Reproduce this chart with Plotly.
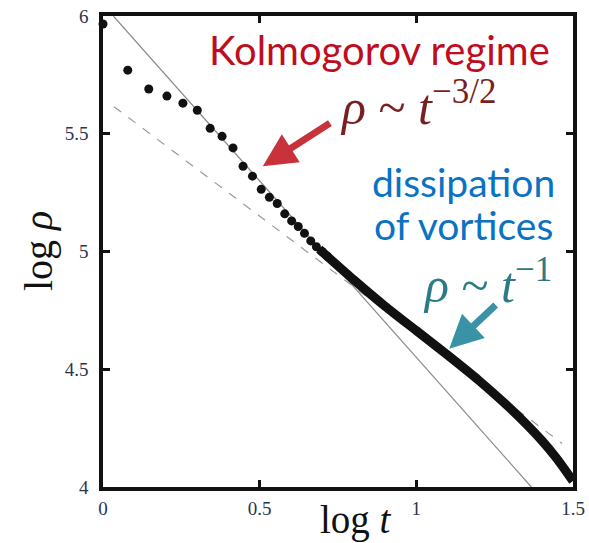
import plotly.graph_objects as go

# dots (early times)
dot_logt = [0.000, 0.079, 0.146, 0.204, 0.255, 0.301, 0.342, 0.380, 0.415, 0.447,
            0.477, 0.505, 0.531, 0.556, 0.580, 0.602, 0.623, 0.643, 0.663, 0.681,
            0.699, 0.716]
dot_logrho = [5.966, 5.770, 5.690, 5.660, 5.630, 5.600, 5.523, 5.489, 5.440, 5.362,
              5.320, 5.264, 5.230, 5.204, 5.160, 5.130, 5.106, 5.077, 5.045, 5.020,
              5.000, 4.980]
# dense part (dots merge into a thick curve)
curve_logt = [0.69, 0.80, 0.90, 1.00, 1.10, 1.20, 1.30, 1.40, 1.45, 1.50]
curve_logrho = [5.010, 4.880, 4.768, 4.664, 4.560, 4.452, 4.333, 4.198, 4.118, 4.025]
# guide lines
kolmo_logt = [0.033, 1.367]
kolmo_logrho = [6.0, 4.0]
dissip_logt = [0.035, 1.465]
dissip_logrho = [5.615, 4.185]

xticks = [0, 0.5, 1, 1.5]
xticklabels = ["0", "0.5", "1", "1.5"]
yticks = [4, 4.5, 5, 5.5, 6]
yticklabels = ["4", "4.5", "5", "5.5", "6"]

W, H = 589, 543
L, R, T, B = 103, 16, 16, 56


def px(xp):
    return (xp - L) / (W - L - R)


def py(yp):
    return (H - B - yp) / (H - T - B)


fig = go.Figure()
fig.add_trace(go.Scatter(x=kolmo_logt, y=kolmo_logrho, mode="lines",
                         line=dict(color="#8a8a8a", width=1.2), showlegend=False))
fig.add_trace(go.Scatter(x=dissip_logt, y=dissip_logrho, mode="lines",
                         line=dict(color="#9a9a9a", width=1.2, dash="dash"), showlegend=False))
fig.add_trace(go.Scatter(x=curve_logt, y=curve_logrho, mode="lines",
                         line=dict(color="#111111", width=9, shape="spline", smoothing=0.6),
                         showlegend=False, cliponaxis=False))
fig.add_trace(go.Scatter(x=dot_logt, y=dot_logrho, mode="markers",
                         marker=dict(color="#111111", size=9), showlegend=False,
                         cliponaxis=False))

axis_common = dict(showline=True, linecolor="#111111", linewidth=3.5, mirror="ticks",
                   ticks="inside", ticklen=7, tickwidth=3, tickcolor="#111111",
                   showgrid=False, zeroline=False, automargin=False,
                   tickfont=dict(family="Liberation Serif", size=19, color="#2a3550"))

fig.update_xaxes(range=[0, 1.5], tickvals=xticks, ticktext=xticklabels,
                 ticklabelstandoff=1, **axis_common)
fig.update_yaxes(range=[4, 6], tickvals=yticks, ticktext=yticklabels,
                 ticklabelstandoff=7, **axis_common)

C = dict(xref="paper", yref="paper", xanchor="center", yanchor="middle", showarrow=False)
ann = []
ann.append(dict(x=px(379), y=py(50), text="Kolmogorov regime",
                font=dict(family="Lato", size=40, color="#c00d1e"), **C))
ann.append(dict(x=px(418), y=py(104), text="<i>ρ</i> ~ <i>t</i><sup>−3/2</sup>",
                font=dict(family="Liberation Serif", size=50, color="#7a1f1f"), **C))
ann.append(dict(x=px(463), y=py(182), text="dissipation",
                font=dict(family="Lato", size=39, color="#0a72c2"), **C))
ann.append(dict(x=px(463), y=py(225), text="of vortices",
                font=dict(family="Lato", size=39, color="#0a72c2"), **C))
ann.append(dict(x=px(487), y=py(281), text="<i>ρ</i> ~ <i>t</i><sup>−1</sup>",
                font=dict(family="Liberation Serif", size=50, color="#2b7a86"), **C))
# arrows
ann.append(dict(x=0.51, y=5.362, ax=0.729, ay=5.549, axref="x", ayref="y",
                text="", showarrow=True, arrowhead=2, arrowsize=0.95, arrowwidth=7,
                arrowcolor="#c8333b"))
ann.append(dict(x=1.105, y=4.587, ax=1.258, ay=4.779, axref="x", ayref="y",
                text="", showarrow=True, arrowhead=2, arrowsize=0.95, arrowwidth=7,
                arrowcolor="#3a92a6"))
# axis titles
ann.append(dict(x=px(38), y=py(251), text="log <i>ρ</i>", textangle=-90,
                font=dict(family="Liberation Serif", size=40, color="#111111"), **C))
ann.append(dict(x=px(356), y=py(520), text="log <i>t</i>",
                font=dict(family="Liberation Serif", size=39, color="#111111"), **C))

fig.update_layout(width=W, height=H, margin=dict(l=L, r=R, t=T, b=B),
                  plot_bgcolor="white", paper_bgcolor="white", annotations=ann)

fig.write_html("out.html", config={"displayModeBar": False},
               post_script="document.body.style.margin='0';document.body.style.padding='0';")
